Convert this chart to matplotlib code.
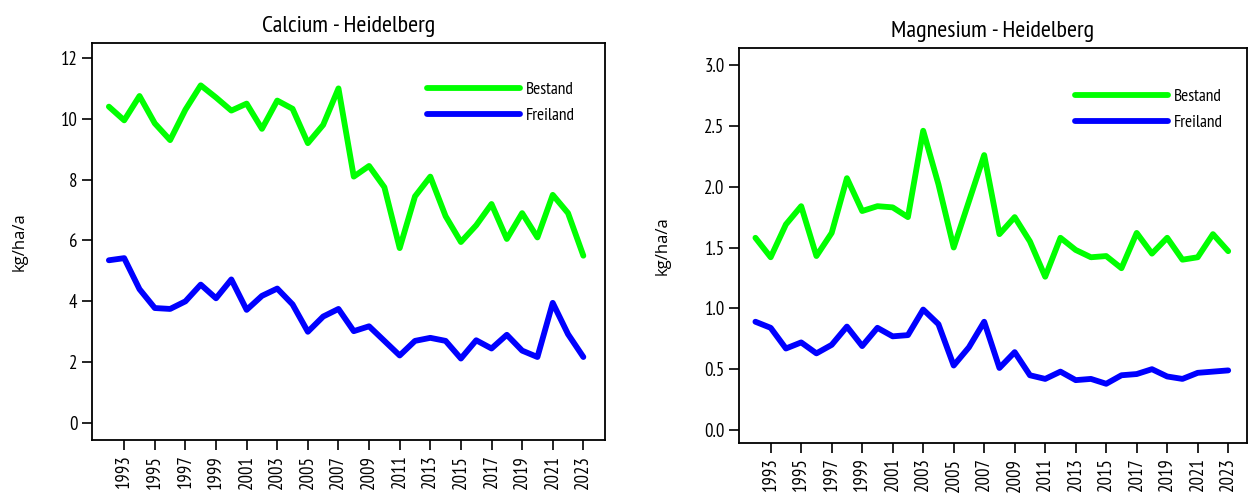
import numpy as np
import matplotlib.pyplot as plt

plt.rcParams['font.family'] = ['PT Sans Narrow', 'Archivo Narrow', 'DejaVu Sans']

years = list(range(1992, 2024))

ca_bestand = [10.4, 9.95, 10.75, 9.85, 9.3, 10.3, 11.1, 10.7, 10.27, 10.5, 9.67, 10.6,
              10.33, 9.2, 9.8, 11.0, 8.1, 8.45, 7.75, 5.75, 7.45, 8.1, 6.8, 5.95,
              6.5, 7.2, 6.05, 6.9, 6.1, 7.5, 6.9, 5.5]
ca_freiland = [5.35, 5.42, 4.4, 3.78, 3.75, 4.0, 4.55, 4.1, 4.72, 3.72, 4.18, 4.42,
               3.9, 3.0, 3.5, 3.75, 3.02, 3.18, 2.7, 2.22, 2.7, 2.8, 2.7, 2.12,
               2.72, 2.45, 2.9, 2.38, 2.17, 3.95, 2.92, 2.17]

mg_bestand = [1.58, 1.42, 1.69, 1.84, 1.43, 1.62, 2.07, 1.80, 1.84, 1.83, 1.75, 2.46,
              2.02, 1.50, 1.88, 2.26, 1.61, 1.75, 1.55, 1.26, 1.58, 1.48, 1.42, 1.43,
              1.33, 1.62, 1.45, 1.58, 1.40, 1.42, 1.61, 1.47]
mg_freiland = [0.89, 0.84, 0.67, 0.72, 0.63, 0.70, 0.85, 0.69, 0.84, 0.77, 0.78, 0.99,
               0.87, 0.53, 0.68, 0.89, 0.51, 0.64, 0.45, 0.42, 0.48, 0.41, 0.42, 0.38,
               0.45, 0.46, 0.50, 0.44, 0.42, 0.47, 0.48, 0.49]

xticks = list(range(1993, 2024, 2))

fig = plt.figure(figsize=(12.49, 4.95), dpi=100)
ax1 = fig.add_axes([0.0737, 0.111, 0.411, 0.802])
ax2 = fig.add_axes([0.592, 0.105, 0.406, 0.798])

def draw(ax, bestand, freiland, title, ylim, yticks, fmt, xlim, leg_anchor):
    ax.plot(years, bestand, color='#00ff00', lw=4.2, label='Bestand', solid_capstyle='round')
    ax.plot(years, freiland, color='#0000ff', lw=4.2, label='Freiland', solid_capstyle='round')
    ax.set_xlim(*xlim)
    ax.set_ylim(*ylim)
    ax.set_xticks(xticks)
    ax.set_xticklabels([str(y) for y in xticks], rotation=90, fontsize=13.5)
    ax.set_yticks(yticks)
    ax.set_yticklabels([fmt.format(v) for v in yticks], fontsize=13.5)
    ax.tick_params(direction='out', length=7, width=1.2)
    for s in ax.spines.values():
        s.set_linewidth(1.3)
    ax.set_title(title, fontsize=17.5, pad=8)
    ax.set_ylabel('kg/ha/a', fontsize=12, labelpad=24, family=['Open Sans', 'DejaVu Sans'])
    ax.legend(loc='upper right', frameon=False, fontsize=12.5, handlelength=5.35,
              handletextpad=0.35, borderaxespad=1.5, labelspacing=0.55,
              bbox_to_anchor=leg_anchor)

draw(ax1, ca_bestand, ca_freiland, 'Calcium - Heidelberg', (-0.56, 12.49),
     [0, 2, 4, 6, 8, 10, 12], '{:g}', (1990.9, 2024.44), (1.005, 0.985))
draw(ax2, mg_bestand, mg_freiland, 'Magnesium - Heidelberg', (-0.107, 3.14),
     [0.0, 0.5, 1.0, 1.5, 2.0, 2.5, 3.0], '{:.1f}', (1990.95, 2024.2), (1.019, 0.98))

fig.savefig('out.png', dpi=100)
